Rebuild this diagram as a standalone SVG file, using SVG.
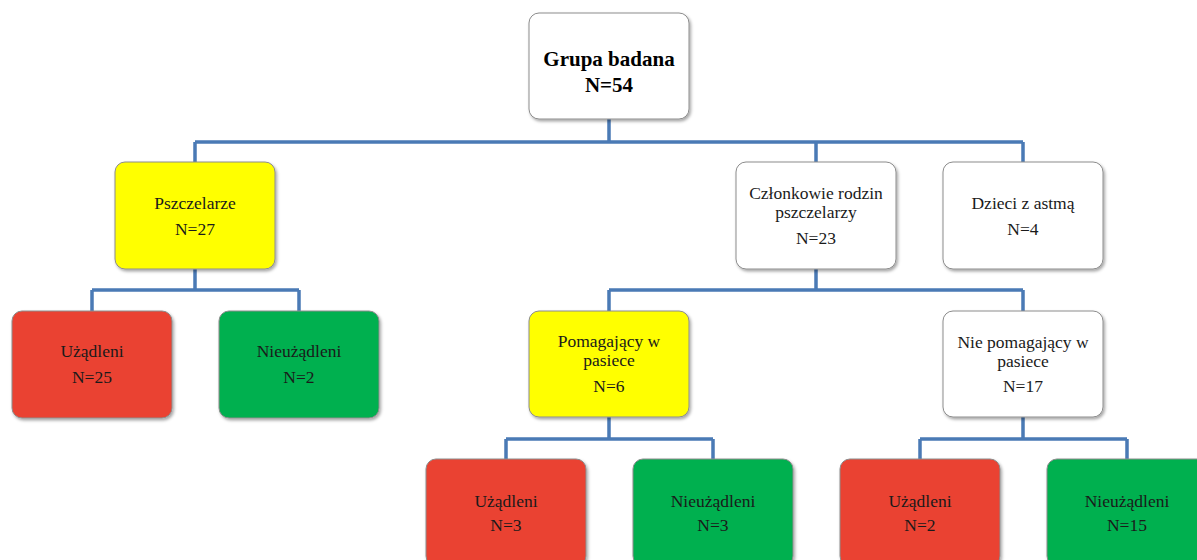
<svg xmlns="http://www.w3.org/2000/svg" width="1197" height="560" viewBox="0 0 1197 560">
<style>
.box{stroke:#8c8c8c;stroke-width:1;filter:url(#sh)}
.w{fill:#ffffff}.y{fill:#ffff00}.r{fill:#ea4230}.g{fill:#00b04f}
text{font-family:"Liberation Serif","Times New Roman",serif;font-size:17.5px;fill:#1a1a1a;text-anchor:middle}
.b{font-weight:bold;font-size:21px;fill:#000}
.c{fill:none;stroke:#4a7ab5;stroke-width:3.5}
</style>
<defs>
<filter id="sh" x="-10%" y="-10%" width="125%" height="130%">
<feDropShadow dx="1.5" dy="2" stdDeviation="1.8" flood-color="#000" flood-opacity="0.35"/>
</filter>
</defs>
<g id="connectors">
<path class="c" d="M609 119V142M195 142H1023M195 142V162M816 142V162M1023 142V162"/>
<path class="c" d="M195 269V290M92 290H299M92 290V311M299 290V311"/>
<path class="c" d="M816 269V290M609 290H1023M609 290V311M1023 290V311"/>
<path class="c" d="M609 417V439M506 439H713M506 439V459M713 439V459"/>
<path class="c" d="M1023 417V439M920 439H1127M920 439V459M1127 439V459"/>
</g>
<g id="root"><rect class="box w" x="529" y="13" width="160" height="106" rx="10"/>
<text class="b" x="609" y="66">Grupa badana</text><text class="b" x="609" y="92">N=54</text></g>
<g id="pszczelarze"><rect class="box y" x="115" y="162" width="160" height="107" rx="10"/>
<text x="195" y="209">Pszczelarze</text><text x="195" y="235">N=27</text></g>
<g id="czlonkowie"><rect class="box w" x="736" y="162" width="160" height="107" rx="10"/>
<text x="816" y="199">Członkowie rodzin</text><text x="816" y="218">pszczelarzy</text><text x="816" y="244">N=23</text></g>
<g id="dzieci"><rect class="box w" x="943" y="162" width="160" height="107" rx="10"/>
<text x="1023" y="209">Dzieci z astmą</text><text x="1023" y="235">N=4</text></g>
<g id="p-uzadleni"><rect class="box r" x="12" y="311" width="160" height="107" rx="10"/>
<text x="92" y="357">Użądleni</text><text x="92" y="383">N=25</text></g>
<g id="p-nieuzadleni"><rect class="box g" x="219" y="311" width="160" height="107" rx="10"/>
<text x="299" y="357">Nieużądleni</text><text x="299" y="383">N=2</text></g>
<g id="pomagajacy"><rect class="box y" x="529" y="311" width="160" height="106" rx="10"/>
<text x="609" y="347">Pomagający w</text><text x="609" y="366">pasiece</text><text x="609" y="392">N=6</text></g>
<g id="niepomagajacy"><rect class="box w" x="943" y="311" width="160" height="106" rx="10"/>
<text x="1023" y="348">Nie pomagający w</text><text x="1023" y="367">pasiece</text><text x="1023" y="392">N=17</text></g>
<g id="pom-uzadleni"><rect class="box r" x="426" y="459" width="160" height="107" rx="10"/>
<text x="506" y="507">Użądleni</text><text x="506" y="531">N=3</text></g>
<g id="pom-nieuzadleni"><rect class="box g" x="633" y="459" width="160" height="107" rx="10"/>
<text x="713" y="507">Nieużądleni</text><text x="713" y="531">N=3</text></g>
<g id="niepom-uzadleni"><rect class="box r" x="840" y="459" width="160" height="107" rx="10"/>
<text x="920" y="507">Użądleni</text><text x="920" y="531">N=2</text></g>
<g id="niepom-nieuzadleni"><rect class="box g" x="1047" y="459" width="160" height="107" rx="10"/>
<text x="1127" y="507">Nieużądleni</text><text x="1127" y="531">N=15</text></g>
</svg>
